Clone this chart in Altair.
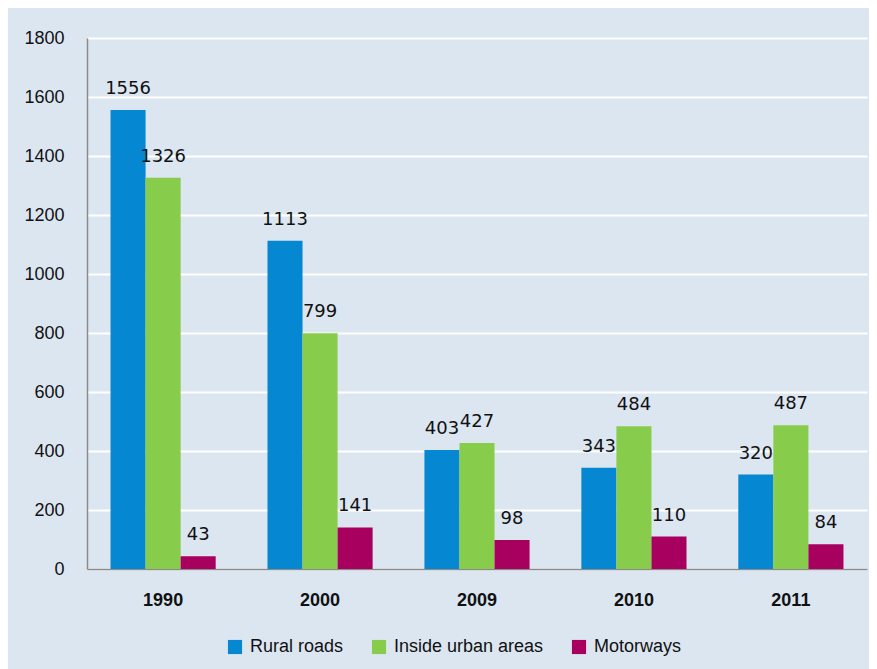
import altair as alt
import pandas as pd

years = ["1990", "2000", "2009", "2010", "2011"]
series = ["Rural roads", "Inside urban areas", "Motorways"]
rural = [1556, 1113, 403, 343, 320]
urban = [1326, 799, 427, 484, 487]
motorways = [43, 141, 98, 110, 84]
colors = ["#0687d1", "#88cc4c", "#a8005f"]

rows = []
for i, y in enumerate(years):
    for s, vals in zip(series, [rural, urban, motorways]):
        rows.append({"year": y, "series": s, "value": vals[i]})
df = pd.DataFrame(rows)

x = alt.X("year:N", sort=years, title=None,
          scale=alt.Scale(paddingInner=0.33, paddingOuter=0.15),
          axis=alt.Axis(labelAngle=0, labelFont="Liberation Sans",
                        labelFontWeight="bold",
                        labelFontSize=18, labelColor="#111", labelPadding=22, ticks=False,
                        domainColor="#8a8a8a", domainWidth=1.5, grid=False))
xo = alt.XOffset("series:N", sort=series, scale=alt.Scale(domain=series))

bars = alt.Chart(df).mark_bar().encode(
    x=x,
    xOffset=xo,
    y=alt.Y("value:Q", title=None,
            scale=alt.Scale(domain=[0, 1800], nice=False),
            axis=alt.Axis(values=list(range(0, 1801, 200)), format="d",
                          labelFont="Liberation Sans",
                          labelFontSize=18, labelColor="#111", labelPadding=23, ticks=False,
                          domainColor="#8a8a8a", domainWidth=1.5,
                          gridColor="#ffffff", gridWidth=2, gridOpacity=1)),
    color=alt.Color("series:N", sort=series,
                    scale=alt.Scale(domain=series, range=colors),
                    legend=alt.Legend(title=None, orient="none", direction="horizontal",
                                      legendX=139, legendY=600, symbolType="square",
                                      symbolSize=200, symbolStrokeWidth=0, symbolOpacity=1,
                                      labelFont="Liberation Sans",
                                      labelFontSize=18,
                                      labelColor="#111", columnPadding=26, labelOffset=6,
                                      padding=0)),
)

labels = alt.Chart(df).mark_text(baseline="bottom", dy=-12, font="DejaVu Sans",
                                 fontSize=18, color="#111").encode(
    x=alt.X("year:N", sort=years),
    xOffset=xo,
    y=alt.Y("value:Q"),
    text=alt.Text("value:Q"),
)

chart = (bars + labels).properties(
    width=780, height=531,
    background="#dce6f1",
    padding={"left": 79, "top": 30, "right": 2, "bottom": 100},
    autosize=alt.AutoSizeParams(type="none"),
).configure_view(stroke=None, fill="#dce6f1")

chart.save("out.html", embed_options={"renderer": "svg", "actions": False})
